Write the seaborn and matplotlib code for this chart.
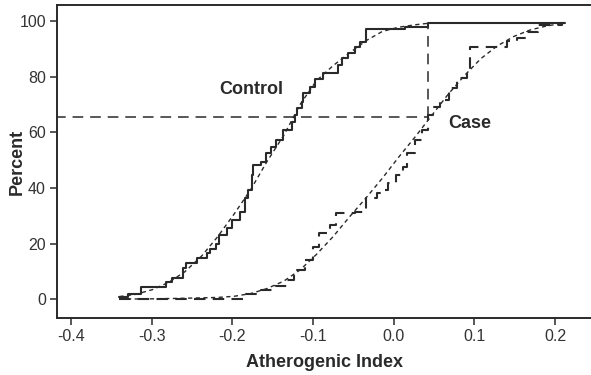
import matplotlib
matplotlib.use('Agg')
import matplotlib.pyplot as plt
import seaborn as sns
import pandas as pd

# Control group: empirical CDF steps (x, percent)
ctrl_x = [-0.340, -0.329, -0.313, -0.282, -0.275, -0.261, -0.257, -0.244, -0.232, -0.228,
          -0.220, -0.216, -0.207, -0.200, -0.190, -0.184, -0.180, -0.176, -0.174, -0.164,
          -0.158, -0.152, -0.146, -0.137, -0.126, -0.122, -0.120, -0.114, -0.112, -0.104,
          -0.098, -0.088, -0.069, -0.064, -0.057, -0.048, -0.042, -0.034, 0.014, 0.042, 0.212]
ctrl_y = [0.8, 1.8, 4.4, 6.2, 7.7, 11.1, 13.0, 14.9, 16.5, 18.0,
          20.0, 23.0, 25.5, 28.4, 31.4, 36.3, 39.2, 44.6, 48.2, 49.4,
          52.5, 54.8, 57.2, 60.8, 63.8, 66.2, 68.6, 71.0, 74.0, 76.4,
          79.0, 81.2, 84.2, 86.6, 88.4, 90.8, 92.6, 97.1, 98.0, 99.5, 99.5]

# Control group: fitted (smooth) CDF
ctrl_fit_x = [-0.340, -0.320, -0.299, -0.279, -0.259, -0.238, -0.218, -0.198, -0.177, -0.157,
              -0.136, -0.116, -0.096, -0.075, -0.055, -0.034, -0.014, 0.006, 0.027, 0.042]
ctrl_fit_y = [0.9, 1.7, 3.4, 6.0, 9.8, 15.5, 22.5, 30.5, 39.5, 49.5,
              59.0, 70.0, 78.5, 84.0, 88.5, 93.0, 96.3, 97.8, 98.7, 99.2]

# Case group: empirical CDF steps
case_x = [-0.340, -0.184, -0.164, -0.147, -0.132, -0.124, -0.110, -0.100, -0.092, -0.079,
          -0.071, -0.048, -0.034, -0.021, -0.015, -0.007, 0.003, 0.011, 0.016, 0.027,
          0.035, 0.042, 0.049, 0.057, 0.069, 0.078, 0.091, 0.095, 0.140, 0.153,
          0.165, 0.179, 0.208, 0.212]
case_y = [0.0, 2.0, 3.2, 4.8, 6.8, 10.4, 14.0, 18.8, 23.6, 26.6,
          30.8, 31.4, 36.2, 38.0, 39.2, 41.6, 44.6, 47.5, 52.5, 57.2,
          61.0, 66.2, 69.2, 71.6, 75.8, 79.4, 82.4, 90.8, 93.0, 94.0,
          96.2, 98.6, 99.5, 99.5]

# Case group: fitted (smooth) CDF
case_fit_x = [-0.340, -0.299, -0.259, -0.218, -0.198, -0.177, -0.157, -0.136, -0.116, -0.096,
              -0.075, -0.055, -0.034, -0.014, 0.006, 0.027, 0.047, 0.067, 0.088, 0.108,
              0.128, 0.149, 0.169, 0.190, 0.210]
case_fit_y = [0.0, 0.1, 0.3, 0.6, 1.0, 2.0, 3.8, 6.5, 10.5, 16.0,
              22.5, 29.5, 36.5, 43.5, 51.0, 58.5, 66.0, 73.5, 80.5, 86.5,
              91.0, 94.5, 96.8, 98.3, 99.2]

# Maximum distance between the two CDFs
ks_x = 0.042
ks_low, ks_high = 65.6, 99.5

x_ticks = [-0.4, -0.3, -0.2, -0.1, 0.0, 0.1, 0.2]
y_ticks = [0, 20, 40, 60, 80, 100]

sns.set_theme(style="ticks")
plt.rcParams['font.family'] = ['Liberation Sans', 'DejaVu Sans']

ink = '#2a2a2a'
fig = plt.figure(figsize=(5.91, 3.75), dpi=100)
ax = fig.add_axes([57 / 591, 57 / 375, 540 / 591, 313 / 375])

ctrl = pd.DataFrame({'x': ctrl_x, 'y': ctrl_y})
case = pd.DataFrame({'x': case_x, 'y': case_y})
ctrl_fit = pd.DataFrame({'x': ctrl_fit_x, 'y': ctrl_fit_y})
case_fit = pd.DataFrame({'x': case_fit_x, 'y': case_fit_y})

sns.lineplot(data=ctrl, x='x', y='y', ax=ax, color=ink, lw=1.5,
             drawstyle='steps-post', estimator=None, sort=False)
sns.lineplot(data=case, x='x', y='y', ax=ax, color=ink, lw=1.5,
             linestyle=(0, (5.5, 3.5)), drawstyle='steps-post', estimator=None, sort=False)
sns.lineplot(data=ctrl_fit, x='x', y='y', ax=ax, color=ink, lw=1.0,
             linestyle=(0, (3, 2.5)), estimator=None, sort=False)
sns.lineplot(data=case_fit, x='x', y='y', ax=ax, color=ink, lw=1.0,
             linestyle=(0, (3, 2.5)), estimator=None, sort=False)

# KS distance guide lines
ax.plot([-0.42, ks_x], [ks_low, ks_low], color=ink, lw=1.1, ls=(0, (7, 4.5)))
ax.plot([ks_x, ks_x], [ks_low, ks_high], color=ink, lw=1.1, ls=(0, (7, 4.5)))

ax.text(-0.176, 75.5, 'Control', fontsize=13, fontweight='bold', color=ink,
        ha='center', va='center')
ax.text(0.094, 63, 'Case', fontsize=13, fontweight='bold', color=ink,
        ha='center', va='center')

ax.set_xlim(-0.4173, 0.252)
ax.set_ylim(-6.8, 105.8)
ax.set_xticks(x_ticks)
ax.set_xticklabels([f'{t:.1f}' for t in x_ticks])
ax.set_yticks(y_ticks)
ax.tick_params(axis='both', direction='out', length=5, width=1.1, color=ink,
               labelsize=11.5, labelcolor='#333333', pad=3)
for s in ax.spines.values():
    s.set_visible(True)
    s.set_color(ink)
    s.set_linewidth(1.4)

ax.set_xlabel('Atherogenic Index', fontsize=13, fontweight='bold', color=ink)
ax.set_ylabel('Percent', fontsize=13, fontweight='bold', color=ink)
ax.xaxis.set_label_coords(0.496, -0.115)
ax.yaxis.set_label_coords(-0.058, 0.5)
ax.grid(False)

fig.savefig('out.png', dpi=100)
